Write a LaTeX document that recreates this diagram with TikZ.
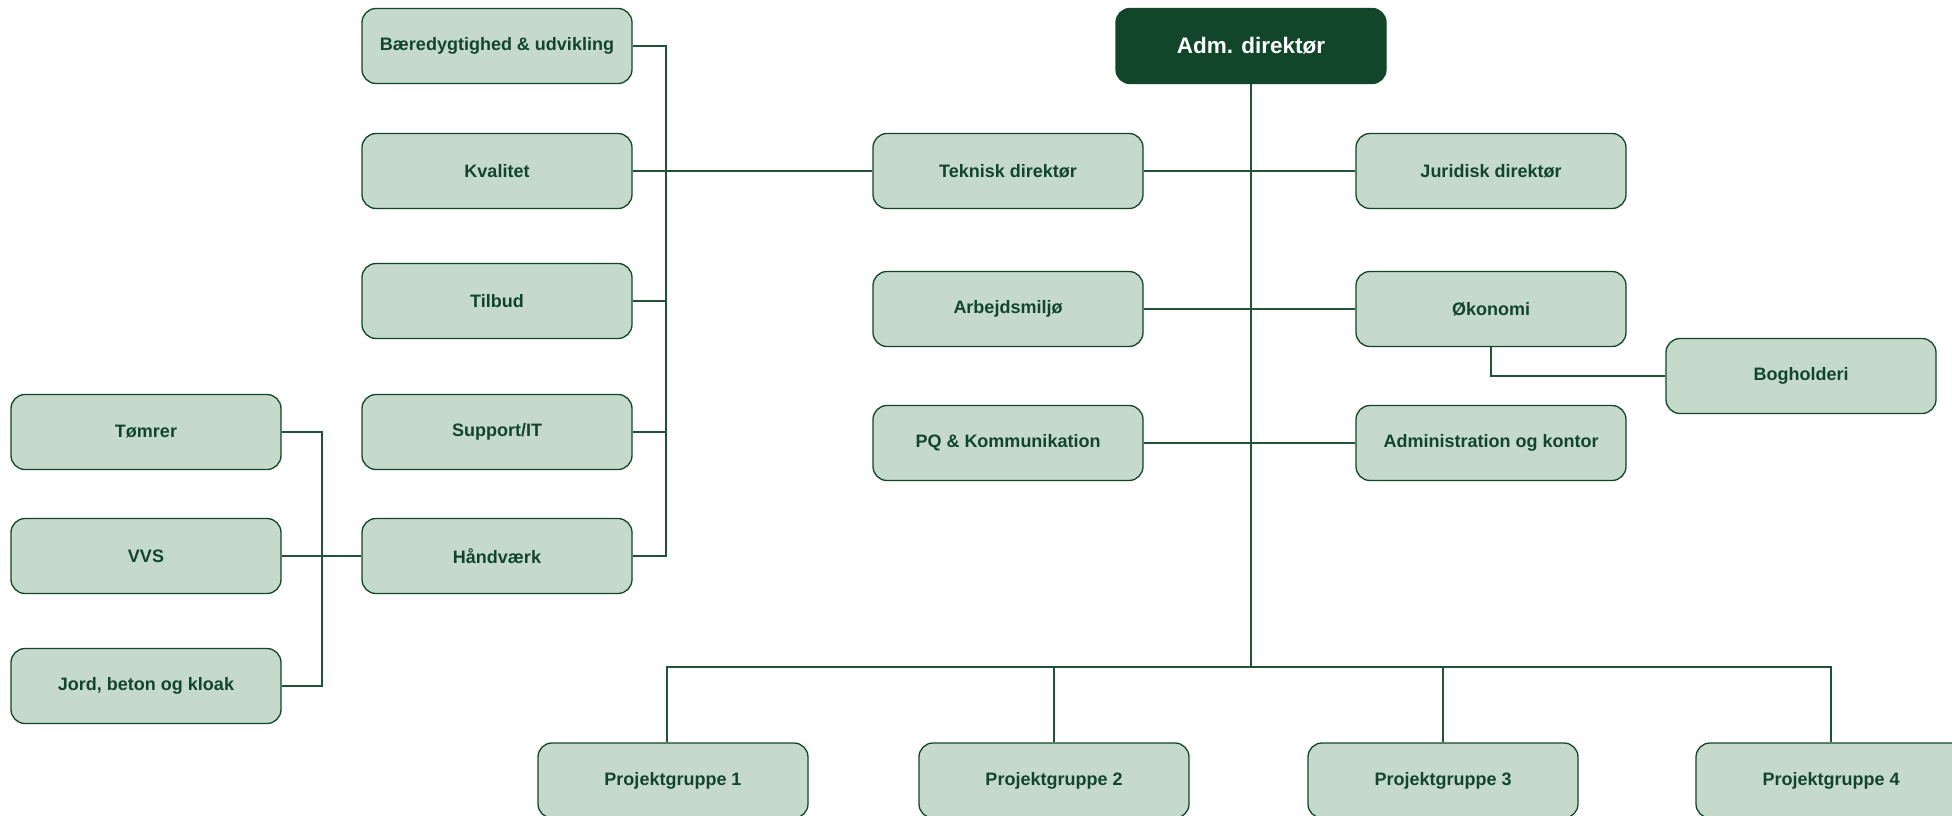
\documentclass[tikz,border=0pt]{standalone}
\usepackage{fontspec}
\setmainfont{Liberation Sans}
\definecolor{dkgreen}{HTML}{11462A}
\definecolor{lightgreen}{HTML}{C6DACB}
\definecolor{linegreen}{HTML}{1F5236}
\tikzset{
  box/.style={draw=dkgreen, line width=1.3pt, fill=lightgreen, rounded corners=14pt,
    minimum width=270pt, minimum height=75pt, inner sep=0pt,
    text=dkgreen, font=\fontsize{18}{22}\selectfont\bfseries},
  topbox/.style={box, fill=dkgreen, text=white, font=\fontsize{22.5}{26}\selectfont\bfseries},
  conn/.style={draw=linegreen, line width=1.3pt}
}
\begin{document}
\begin{tikzpicture}[x=1pt,y=-1pt]
\fill[white] (0,0) rectangle (1952,816);
\useasboundingbox (0,0) rectangle (1952,816);
% nodes
\node[topbox] (adm) at (1251,46) {Adm. direktør};
\node[box] (baer) at (497,46) {Bæredygtighed \& udvikling};
\node[box] (kval) at (497,171) {Kvalitet};
\node[box] (tilb) at (497,301) {Tilbud};
\node[box] (supp) at (497,432) {Support/IT};
\node[box] (hand) at (497,556) {Håndværk};
\node[box] (tom) at (146,432) {Tømrer};
\node[box] (vvs) at (146,556) {VVS};
\node[box] (jord) at (146,686) {Jord, beton og kloak};
\node[box] (tek) at (1008,171) {Teknisk direktør};
\node[box] (jur) at (1491,171) {Juridisk direktør};
\node[box] (arb) at (1008,309) {Arbejdsmiljø};
\node[box] (oko) at (1491,309) {Økonomi};
\node[box] (bog) at (1801,376) {Bogholderi};
\node[box] (pq) at (1008,443) {PQ \& Kommunikation};
\node[box] (admk) at (1491,443) {Administration og kontor};
\node[box] (p1) at (673,780.5) {Projektgruppe 1};
\node[box] (p2) at (1054,780.5) {Projektgruppe 2};
\node[box] (p3) at (1443,780.5) {Projektgruppe 3};
\node[box] (p4) at (1831,780.5) {Projektgruppe 4};
% helper coordinates
\coordinate (lv) at (666,0);
\coordinate (gv) at (322,0);
\coordinate (bus) at (1251,667);
% connectors
\draw[conn] (baer.east) -- (baer.east -| lv) -- (hand.east -| lv) -- (hand.east);
\draw[conn] (tilb.east) -- (tilb.east -| lv);
\draw[conn] (supp.east) -- (supp.east -| lv);
\draw[conn] (kval.east) -- (tek.west);
\draw[conn] (tom.east) -- (tom.east -| gv) -- (jord.east -| gv) -- (jord.east);
\draw[conn] (vvs.east) -- (hand.west);
\draw[conn] (adm.south) -- (bus);
\draw[conn] (tek.east) -- (jur.west);
\draw[conn] (arb.east) -- (oko.west);
\draw[conn] (pq.east) -- (admk.west);
\draw[conn] (oko.south) |- (bog.west);
\draw[conn] ([xshift=-6pt]p1.north) |- (p4.north |- bus) -- (p4.north);
\draw[conn] (p2.north) -- (p2.north |- bus);
\draw[conn] (p3.north) -- (p3.north |- bus);
\end{tikzpicture}
\end{document}
